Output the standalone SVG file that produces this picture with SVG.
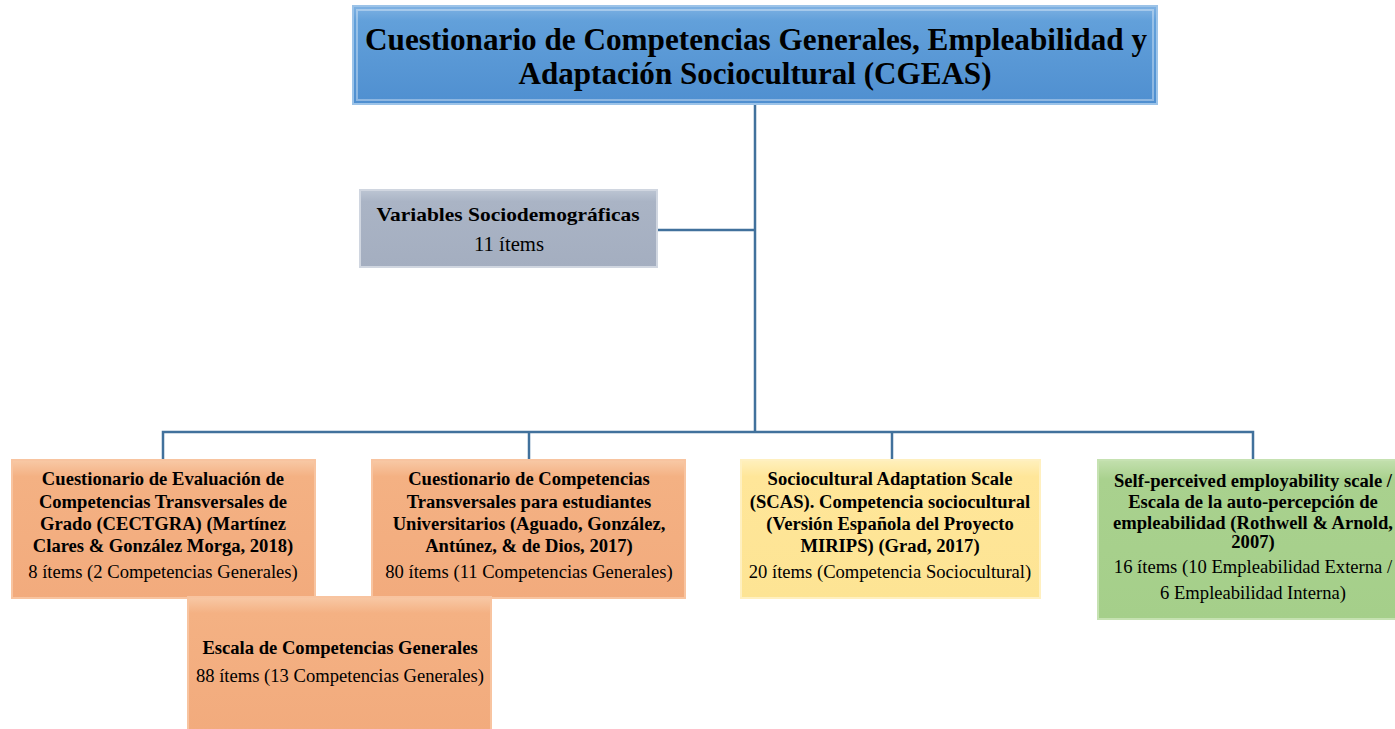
<svg xmlns="http://www.w3.org/2000/svg" width="1395" height="729" viewBox="0 0 1395 729">
<defs>
<linearGradient id="gBlue" x1="0" y1="0" x2="0" y2="1"><stop offset="0" stop-color="#7fb2e3"/><stop offset="0.15" stop-color="#62a0da"/><stop offset="1" stop-color="#4f8fd0"/></linearGradient>
<linearGradient id="gGray" x1="0" y1="0" x2="0" y2="1"><stop offset="0" stop-color="#bcc5d3"/><stop offset="0.15" stop-color="#aab4c5"/><stop offset="1" stop-color="#a4aec0"/></linearGradient>
<linearGradient id="gOrange" x1="0" y1="0" x2="0" y2="1"><stop offset="0" stop-color="#f8c9a6"/><stop offset="0.12" stop-color="#f4b183"/><stop offset="1" stop-color="#f2ab7d"/></linearGradient>
<linearGradient id="gYellow" x1="0" y1="0" x2="0" y2="1"><stop offset="0" stop-color="#fff0bd"/><stop offset="0.12" stop-color="#ffe699"/><stop offset="1" stop-color="#fde494"/></linearGradient>
<linearGradient id="gGreen" x1="0" y1="0" x2="0" y2="1"><stop offset="0" stop-color="#c3e0ae"/><stop offset="0.12" stop-color="#a9d18e"/><stop offset="1" stop-color="#a5cf8a"/></linearGradient>
</defs>
<style>
.bev{fill:none;stroke:#ffffff;stroke-opacity:0.35;stroke-width:2}
.t{font-family:"Liberation Serif","Times New Roman",serif;fill:#000;text-anchor:middle}
.b{font-weight:bold;font-size:18.6px}
.n{font-size:18.6px}
.title{font-weight:bold;font-size:32px}
.con{fill:none;stroke:#41719c;stroke-width:2.5}
</style>
<g id="connectors">
<path class="con" d="M755,104 V432"/>
<path class="con" d="M657,230 H755"/>
<path class="con" d="M163,460 V432 H1253 V460"/>
<path class="con" d="M529,432 V460"/>
<path class="con" d="M892,432 V460"/>
</g>
<g id="title">
<rect x="353" y="6" width="804" height="98" fill="url(#gBlue)" stroke="#9cc3e8" stroke-width="2"/>
<rect class="bev" x="357" y="10" width="796" height="90"/>
<text class="t title" x="756" y="50" textLength="782" lengthAdjust="spacingAndGlyphs">Cuestionario de Competencias Generales, Empleabilidad y</text>
<text class="t title" x="755" y="84" textLength="473" lengthAdjust="spacingAndGlyphs">Adaptación Sociocultural (CGEAS)</text>
</g>
<g id="variables">
<rect x="360" y="190" width="297" height="77" fill="url(#gGray)" stroke="#d0d6e0" stroke-width="2"/>
<text class="t b" x="508" y="221" style="font-size:19.5px" textLength="263" lengthAdjust="spacingAndGlyphs">Variables  Sociodemográficas</text>
<text class="t n" x="509" y="251" style="font-size:20px" textLength="70" lengthAdjust="spacingAndGlyphs">11 ítems</text>
</g>
<g id="cectgra">
<rect x="12" y="460" width="303" height="138" fill="url(#gOrange)" stroke="#f8c4a0" stroke-width="2"/>
<text class="t b" x="163" y="485">Cuestionario de Evaluación de</text>
<text class="t b" x="163" y="508">Competencias Transversales de</text>
<text class="t b" x="163" y="530">Grado (CECTGRA)  (Martínez</text>
<text class="t b" x="163" y="552">Clares &amp; González Morga, 2018)</text>
<text class="t n" x="163" y="578">8 ítems (2 Competencias Generales)</text>
</g>
<g id="aguado">
<rect x="372" y="460" width="313" height="138" fill="url(#gOrange)" stroke="#f8c4a0" stroke-width="2"/>
<text class="t b" x="529" y="485">Cuestionario de Competencias</text>
<text class="t b" x="529" y="508">Transversales para estudiantes</text>
<text class="t b" x="529" y="530">Universitarios (Aguado, González,</text>
<text class="t b" x="529" y="552">Antúnez, &amp; de Dios, 2017)</text>
<text class="t n" x="529" y="578">80 ítems (11 Competencias Generales)</text>
</g>
<g id="scas">
<rect x="741" y="460" width="299" height="138" fill="url(#gYellow)" stroke="#fff0c0" stroke-width="2"/>
<text class="t b" x="890" y="485">Sociocultural Adaptation Scale</text>
<text class="t b" x="890" y="508">(SCAS). Competencia sociocultural</text>
<text class="t b" x="890" y="530">(Versión Española del Proyecto</text>
<text class="t b" x="890" y="552">MIRIPS) (Grad, 2017)</text>
<text class="t n" x="890" y="578">20 ítems (Competencia Sociocultural)</text>
</g>
<g id="employability">
<rect x="1098" y="460" width="310" height="159" fill="url(#gGreen)" stroke="#c6e2b2" stroke-width="2"/>
<text class="t b" x="1253" y="487">Self-perceived employability scale /</text>
<text class="t b" x="1253" y="508">Escala de la auto-percepción de</text>
<text class="t b" x="1253" y="529">empleabilidad (Rothwell &amp; Arnold,</text>
<text class="t b" x="1253" y="548">2007)</text>
<text class="t n" x="1253" y="573">16 ítems (10 Empleabilidad Externa /</text>
<text class="t n" x="1253" y="599">6 Empleabilidad Interna)</text>
</g>
<g id="escala">
<rect x="188" y="597" width="303" height="134" fill="url(#gOrange)" stroke="#f8c4a0" stroke-width="2"/>
<text class="t b" x="340" y="654">Escala de Competencias Generales</text>
<text class="t n" x="340" y="682">88 ítems (13 Competencias Generales)</text>
</g>
</svg>
